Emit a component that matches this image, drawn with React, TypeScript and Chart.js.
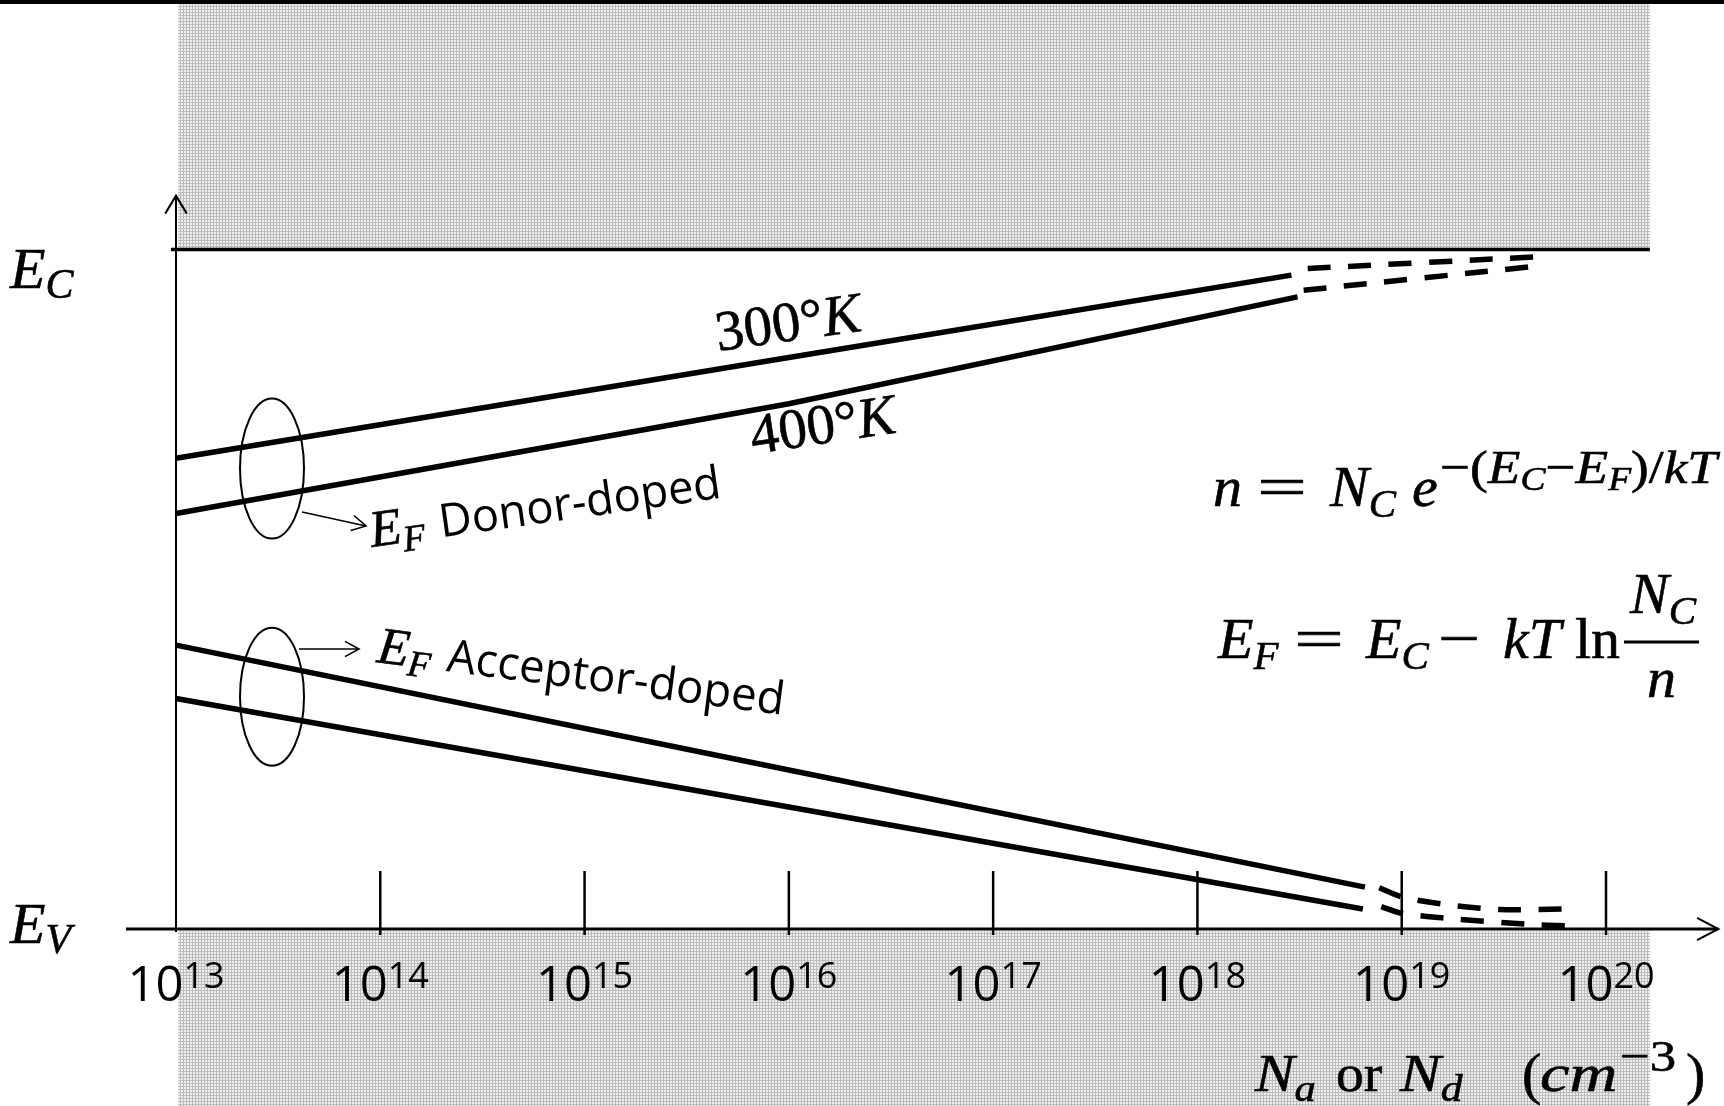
import React, { useEffect, useRef } from "react";
import { Chart, registerables } from "chart.js";

Chart.register(...registerables);

// ---------------- data ----------------
// x : log10 of doping concentration (cm^-3), y : energy above E_V (eV)
const tickExponents = [13, 14, 15, 16, 17, 18, 19, 20];
const E_V = 0;
const E_C = 1.12;

const donor300X = [13, 16, 18.46];
const donor300Y = [0.776, 0.942, 1.078];
const donor300DashX = [18.54, 19.66];
const donor300DashY = [1.089, 1.108];

const donor400X = [13, 16, 18.49];
const donor400Y = [0.685, 0.866, 1.042];
const donor400DashX = [18.52, 19.64];
const donor400DashY = [1.053, 1.092];

const acceptor400X = [13, 16, 18.82];
const acceptor400Y = [0.468, 0.262, 0.069];
const acceptor400DashX = [18.89, 19.0, 19.2, 19.48, 19.79];
const acceptor400DashY = [0.068, 0.053, 0.041, 0.032, 0.033];

const acceptor300X = [13, 16, 18.81];
const acceptor300Y = [0.38, 0.201, 0.033];
const acceptor300DashX = [18.9, 19.0, 19.21, 19.61, 19.81];
const acceptor300DashY = [0.037, 0.026, 0.018, 0.008, 0.005];

// ---------------- layout ----------------
const W = 1724;
const H = 1106;
const X_MIN = 12.1385;
const X_MAX = 20.5776;
const Y_MIN = -0.2918;
const Y_MAX = 1.5315;
const HATCH_END = 20.215;

const SERIF = '"Liberation Serif", "DejaVu Serif", serif';
const SANS = '"Open Sans", "Noto Sans", sans-serif';
const fI = (s: number) => `italic ${s}px ${SERIF}`;
const fR = (s: number) => `${s}px ${SERIF}`;
const fS = (s: number) => `${s}px ${SANS}`;

type Run = [string, string, number?];

function drawRuns(
  ctx: CanvasRenderingContext2D,
  list: Run[],
  x: number,
  y: number,
  opts: { angle?: number; width?: number; sx?: number; bold?: boolean } = {}
) {
  ctx.save();
  ctx.translate(x, y);
  if (opts.angle) ctx.rotate((opts.angle * Math.PI) / 180);
  let total = 0;
  for (const [t, f] of list) {
    ctx.font = f;
    total += ctx.measureText(t).width;
  }
  if (opts.width) ctx.scale(opts.width / total, 1);
  else if (opts.sx) ctx.scale(opts.sx, 1);
  ctx.fillStyle = "#000";
  ctx.strokeStyle = "#000";
  ctx.lineWidth = 0.6;
  ctx.textBaseline = "alphabetic";
  let cx = 0;
  for (const [t, f, dy] of list) {
    ctx.font = f;
    ctx.fillText(t, cx, dy ?? 0);
    if (opts.bold) ctx.strokeText(t, cx, dy ?? 0);
    cx += ctx.measureText(t).width;
  }
  ctx.restore();
}

function arrowHead(
  ctx: CanvasRenderingContext2D,
  x: number,
  y: number,
  angle: number,
  len: number,
  spread: number
) {
  ctx.beginPath();
  ctx.moveTo(x + len * Math.cos(angle + Math.PI - spread), y + len * Math.sin(angle + Math.PI - spread));
  ctx.lineTo(x, y);
  ctx.lineTo(x + len * Math.cos(angle + Math.PI + spread), y + len * Math.sin(angle + Math.PI + spread));
  ctx.stroke();
}

function arrow(ctx: CanvasRenderingContext2D, x0: number, y0: number, x1: number, y1: number) {
  ctx.beginPath();
  ctx.moveTo(x0, y0);
  ctx.lineTo(x1, y1);
  ctx.stroke();
  arrowHead(ctx, x1, y1, Math.atan2(y1 - y0, x1 - x0), 16, 0.5);
}

function makeHatch(ctx: CanvasRenderingContext2D) {
  const c = document.createElement("canvas");
  c.width = 3;
  c.height = 3;
  const g = c.getContext("2d")!;
  g.fillStyle = "#efefef";
  g.fillRect(0, 0, 3, 3);
  g.fillStyle = "#bcbcbc";
  g.fillRect(0, 0, 3, 1);
  g.fillRect(0, 0, 1, 3);
  return ctx.createPattern(c, "repeat")!;
}

const diagramPlugin = {
  id: "bandDiagram",
  beforeDraw(chart: any) {
    const ctx: CanvasRenderingContext2D = chart.ctx;
    const X = (v: number) => chart.scales.x.getPixelForValue(v);
    const Y = (v: number) => chart.scales.y.getPixelForValue(v);
    ctx.save();
    ctx.fillStyle = "#fff";
    ctx.fillRect(0, 0, chart.width, chart.height);
    const hx0 = X(13) + 2;
    const hx1 = X(HATCH_END);
    ctx.fillStyle = makeHatch(ctx);
    ctx.fillRect(hx0, 0, hx1 - hx0, Y(E_C) - 1);
    ctx.fillRect(hx0, Y(E_V) + 2, hx1 - hx0, chart.height - Y(E_V) - 2);
    ctx.fillStyle = "#000";
    ctx.fillRect(0, 0, chart.width, 4);
    ctx.restore();
  },
  beforeDatasetsDraw(chart: any) {
    const ctx: CanvasRenderingContext2D = chart.ctx;
    const X = (v: number) => chart.scales.x.getPixelForValue(v);
    const Y = (v: number) => chart.scales.y.getPixelForValue(v);
    ctx.save();
    ctx.strokeStyle = "#000";
    ctx.lineCap = "butt";
    // E_C band edge
    ctx.lineWidth = 3.5;
    ctx.beginPath();
    ctx.moveTo(X(12.975), Y(E_C));
    ctx.lineTo(X(HATCH_END), Y(E_C));
    ctx.stroke();
    // y axis
    const yTop = Y(E_C) - 54;
    ctx.lineWidth = 2;
    ctx.beginPath();
    ctx.moveTo(X(13), Y(E_V) + 3);
    ctx.lineTo(X(13), yTop);
    ctx.stroke();
    arrowHead(ctx, X(13), yTop, -Math.PI / 2, 21, 0.54);
    // x axis
    ctx.lineWidth = 3;
    ctx.beginPath();
    ctx.moveTo(X(12.755), Y(E_V));
    ctx.lineTo(X(20.55), Y(E_V));
    ctx.stroke();
    ctx.lineWidth = 2;
    arrowHead(ctx, X(20.55), Y(E_V), 0, 24, 0.48);
    // ticks + labels
    ctx.lineWidth = 2.5;
    for (const e of tickExponents) {
      const px = X(e);
      if (e > 13) {
        ctx.beginPath();
        ctx.moveTo(px, Y(E_V) - 58);
        ctx.lineTo(px, Y(E_V) + 6);
        ctx.stroke();
      }
      ctx.font = fS(49);
      const w1 = ctx.measureText("10").width;
      ctx.font = fS(36);
      const w2 = ctx.measureText(String(e)).width;
      drawRuns(ctx, [["10", fS(49)], [String(e), fS(36), -13]], px - (w1 + w2) / 2, Y(E_V) + 72);
    }
    ctx.restore();
  },
  afterDatasetsDraw(chart: any) {
    const ctx: CanvasRenderingContext2D = chart.ctx;
    const X = (v: number) => chart.scales.x.getPixelForValue(v);
    const Y = (v: number) => chart.scales.y.getPixelForValue(v);
    ctx.save();
    ctx.strokeStyle = "#000";
    ctx.lineWidth = 2;
    // ellipses grouping the curves
    ctx.beginPath();
    ctx.ellipse(X(13.47), Y(0.759), 32, 70, 0, 0, Math.PI * 2);
    ctx.stroke();
    ctx.beginPath();
    ctx.ellipse(X(13.47), Y(0.383), 32, 69, 0, 0, Math.PI * 2);
    ctx.stroke();
    ctx.lineWidth = 1.6;
    arrow(ctx, 302, 512, 366, 526);
    arrow(ctx, 299, 649, 359, 649);

    // band edge labels
    drawRuns(ctx, [["E", fI(58)], ["C", fI(42), 10]], 10, 288, { bold: true });
    drawRuns(ctx, [["E", fI(58)], ["V", fI(42), 10]], 10, 943, { bold: true });

    // temperature labels
    drawRuns(ctx, [["300°", fR(57)], ["K", fI(57)]], 718, 351, { angle: -8, bold: true });
    drawRuns(ctx, [["400°", fR(57)], ["K", fI(57)]], 753, 454, { angle: -8.5, bold: true });

    // E_F labels
    const donorAng = -8;
    drawRuns(ctx, [["E", fI(52)], ["F", fI(37), 9]], 372, 547, { angle: donorAng, bold: true });
    ctx.save();
    ctx.translate(372, 547);
    ctx.rotate((donorAng * Math.PI) / 180);
    drawRuns(ctx, [["Donor-doped", fS(46)]], 70, 0, { width: 284 });
    ctx.restore();

    const accAng = 7.4;
    drawRuns(ctx, [["E", fI(52)], ["F", fI(37), 9]], 376, 662, { angle: accAng, bold: true });
    ctx.save();
    ctx.translate(376, 662);
    ctx.rotate((accAng * Math.PI) / 180);
    drawRuns(ctx, [["Acceptor-doped", fS(46)]], 70, 0, { width: 340 });
    ctx.restore();

    // formula 1 : n = N_C e^{-(E_C - E_F)/kT}
    const b1 = 506;
    drawRuns(ctx, [["n", fI(58)]], 1213, b1, { bold: true });
    drawRuns(ctx, [["=", fR(58)]], 1257, b1, { width: 50, bold: true });
    drawRuns(ctx, [["N", fI(58)], ["C", fI(41), 11]], 1330, b1, { bold: true });
    drawRuns(ctx, [["e", fI(58)]], 1412, b1, { bold: true });
    drawRuns(
      ctx,
      [
        ["−(", fR(47)],
        ["E", fI(47)],
        ["C", fI(33), 7],
        ["−", fR(47)],
        ["E", fI(47)],
        ["F", fI(33), 7],
        [")/", fR(47)],
        ["kT", fI(47)],
      ],
      1440,
      483,
      { width: 277, bold: true }
    );

    // formula 2 : E_F = E_C - kT ln (N_C / n)
    const b2 = 658;
    drawRuns(ctx, [["E", fI(58)], ["F", fI(41), 11]], 1218, b2, { bold: true });
    drawRuns(ctx, [["=", fR(58)]], 1294, b2, { width: 50, bold: true });
    drawRuns(ctx, [["E", fI(58)], ["C", fI(41), 11]], 1366, b2, { bold: true });
    drawRuns(ctx, [["−", fR(58)]], 1438, b2, { width: 42, bold: true });
    drawRuns(ctx, [["kT", fI(58)]], 1503, b2, { bold: true });
    drawRuns(ctx, [["ln", fR(58)]], 1575, b2, { bold: true });
    ctx.lineWidth = 3;
    ctx.beginPath();
    ctx.moveTo(1624, 642);
    ctx.lineTo(1699, 642);
    ctx.stroke();
    drawRuns(ctx, [["N", fI(58)], ["C", fI(41), 11]], 1630, 613, { bold: true });
    drawRuns(ctx, [["n", fI(58)]], 1647, 697, { bold: true });

    // x axis title : N_a or N_d (cm^-3)
    const b3 = 1091;
    drawRuns(ctx, [["N", fI(53)], ["a", fI(38), 10]], 1255, b3, { sx: 1.12, bold: true });
    drawRuns(ctx, [["or", fR(53)]], 1336, b3, { sx: 1.05, bold: true });
    drawRuns(ctx, [["N", fI(53)], ["d", fI(38), 10]], 1400, b3, { sx: 1.15, bold: true });
    drawRuns(ctx, [["(", fR(58)]], 1522, b3 + 2, { bold: true });
    drawRuns(ctx, [["cm", fI(53)]], 1540, b3, { sx: 1.25, bold: true });
    drawRuns(ctx, [["−3", fR(44)]], 1620, b3 - 20, { sx: 1.2, bold: true });
    drawRuns(ctx, [[")", fR(58)]], 1686, b3 + 2, { bold: true });
    ctx.restore();
  },
};

const pts = (xs: number[], ys: number[]) => xs.map((x, i) => ({ x, y: ys[i] }));

const solid = (label: string, xs: number[], ys: number[]) => ({
  label,
  data: pts(xs, ys),
  borderColor: "#000",
  backgroundColor: "#000",
  borderWidth: 5.5,
  pointRadius: 0,
  borderCapStyle: "butt" as const,
  fill: false,
  tension: 0,
});

const dashed = (label: string, xs: number[], ys: number[]) => ({
  ...solid(label, xs, ys),
  borderDash: [23, 17.5],
  tension: 0.3,
});

export default function App() {
  const ref = useRef<HTMLCanvasElement>(null);
  useEffect(() => {
    document.body.style.margin = "0";
    const canvas = ref.current!;
    const chart = new Chart(canvas, {
      type: "line",
      data: {
        datasets: [
          solid("Donor-doped 300 K", donor300X, donor300Y),
          dashed("Donor-doped 300 K (high doping)", donor300DashX, donor300DashY),
          solid("Donor-doped 400 K", donor400X, donor400Y),
          dashed("Donor-doped 400 K (high doping)", donor400DashX, donor400DashY),
          solid("Acceptor-doped 400 K", acceptor400X, acceptor400Y),
          dashed("Acceptor-doped 400 K (high doping)", acceptor400DashX, acceptor400DashY),
          solid("Acceptor-doped 300 K", acceptor300X, acceptor300Y),
          dashed("Acceptor-doped 300 K (high doping)", acceptor300DashX, acceptor300DashY),
        ] as any,
      },
      options: {
        animation: false,
        responsive: false,
        devicePixelRatio: 1,
        layout: { padding: 0, autoPadding: false } as any,
        plugins: { legend: { display: false }, tooltip: { enabled: false } },
        events: [],
        scales: {
          x: { type: "linear", min: X_MIN, max: X_MAX, display: false },
          y: { type: "linear", min: Y_MIN, max: Y_MAX, display: false },
        },
      },
      plugins: [diagramPlugin],
    });
    return () => chart.destroy();
  }, []);
  return (
    <div style={{ position: "absolute", left: 0, top: 0, width: W, height: H }}>
      <canvas ref={ref} width={W} height={H} style={{ display: "block", width: W, height: H }} />
    </div>
  );
}
